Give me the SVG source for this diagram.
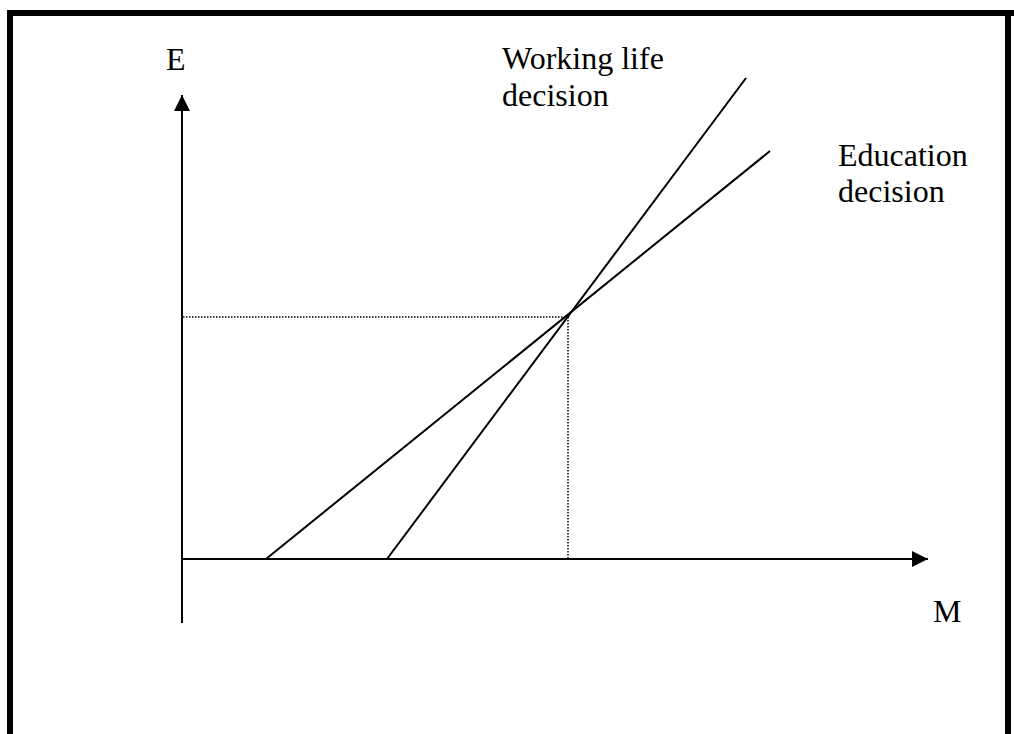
<svg xmlns="http://www.w3.org/2000/svg" width="1014" height="734" viewBox="0 0 1014 734">
<style>
.lbl{font-family:"Liberation Serif","Times New Roman",serif;font-size:32px;fill:#000}
.ln{stroke:#000;stroke-width:2;fill:none}
.dot{stroke:#000;stroke-width:1.5;stroke-dasharray:1.5 1.5;fill:none}
</style>
<defs>
<marker id="arr" markerWidth="16" markerHeight="16" refX="16" refY="8" orient="auto" markerUnits="userSpaceOnUse">
<path d="M0,0 L16,8 L0,16 Z" fill="#000"/>
</marker>
</defs>
<rect width="1014" height="734" fill="#fff"/>
<g id="border">
<rect x="7" y="10" width="1007" height="6" fill="#000"/>
<rect x="7" y="10" width="6" height="724" fill="#000"/>
<rect x="1005" y="10" width="6" height="724" fill="#000"/>
</g>
<g id="connectors">
<line class="ln" x1="182" y1="623" x2="182" y2="95" marker-end="url(#arr)"/>
<line class="ln" x1="183" y1="559" x2="928" y2="559" marker-end="url(#arr)"/>
<line class="dot" x1="183" y1="317" x2="568" y2="317"/>
<line class="dot" x1="568" y1="317" x2="568" y2="558"/>
<line class="ln" x1="387" y1="559" x2="746" y2="78"/>
<line class="ln" x1="266" y1="559" x2="770" y2="151"/>
</g>
<g id="label-E"><text class="lbl" x="166" y="70">E</text></g>
<g id="label-M"><text class="lbl" x="933" y="622">M</text></g>
<g id="label-working"><text class="lbl" x="502" y="69">Working life</text><text class="lbl" x="502" y="106">decision</text></g>
<g id="label-education"><text class="lbl" x="838" y="166">Education</text><text class="lbl" x="838" y="202">decision</text></g>
</svg>
